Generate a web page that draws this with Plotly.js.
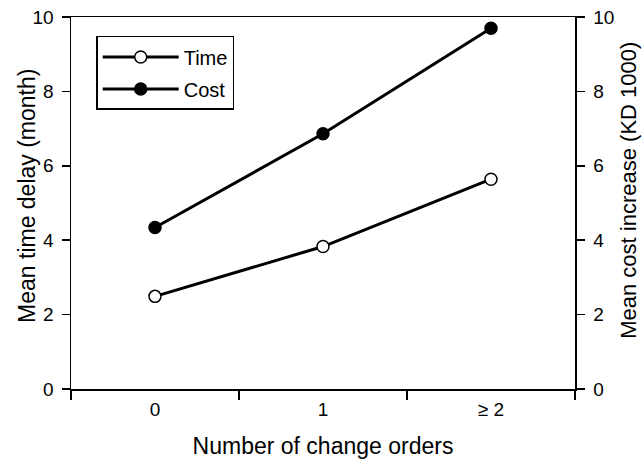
<!DOCTYPE html>
<html>
<head>
<meta charset="utf-8">
<script src="https://cdn.plot.ly/plotly-3.0.1.min.js"></script>
<style>html,body{margin:0;padding:0;background:#fff;}#chart{width:643px;height:462px;}</style>
</head>
<body>
<div id="chart"></div>
<script>
const categories = ['0', '1', '≥ 2'];
const timeDelay = [2.49, 3.83, 5.64];
const costIncrease = [4.34, 6.86, 9.70];
const seriesNames = ['Time', 'Cost'];
const yTickVals = [0, 2, 4, 6, 8, 10];
const xTitle = 'Number of change orders';
const yTitleLeft = 'Mean time delay (month)';
const yTitleRight = 'Mean cost increase (KD 1000)';

const family = 'Liberation Sans, Arial, sans-serif';
const tickFont = {family: family, size: 19, color: '#000'};
const titleFont = {family: family, size: 23, color: '#000'};
const rightTitleFont = {family: family, size: 22, color: '#000'};
const legendFont = {family: family, size: 20, color: '#000'};

const traces = [
  {
    x: categories, y: timeDelay, name: seriesNames[0], type: 'scatter', mode: 'lines+markers',
    line: {color: '#000', width: 3},
    marker: {symbol: 'circle', size: 12, color: '#fff', line: {color: '#000', width: 1.5}},
    legendgroup: 'a', yaxis: 'y'
  },
  {
    x: categories, y: costIncrease, name: seriesNames[1], type: 'scatter', mode: 'lines+markers',
    line: {color: '#000', width: 3},
    marker: {symbol: 'circle', size: 12, color: '#000', line: {color: '#000', width: 1.5}},
    legendgroup: 'b', yaxis: 'y2'
  }
];

const layout = {
  width: 643, height: 462,
  margin: {l: 71, r: 68, t: 17, b: 73},
  paper_bgcolor: '#fff', plot_bgcolor: '#fff',
  font: tickFont,
  showlegend: true,
  legend: {
    x: 0.05, y: 0.949, xanchor: 'left', yanchor: 'top',
    bordercolor: '#000', borderwidth: 1.5, bgcolor: '#fff',
    font: legendFont, traceorder: 'grouped', tracegroupgap: 3, itemwidth: 76
  },
  xaxis: {
    type: 'category', range: [-0.5, 2.5], tickson: 'boundaries',
    showline: true, linecolor: '#000', linewidth: 1.5, mirror: true,
    ticks: 'outside', ticklen: 9, tickwidth: 1.5, tickcolor: '#000',
    showgrid: false, zeroline: false, tickfont: tickFont, ticklabelstandoff: 3,
    title: {text: xTitle, font: titleFont, standoff: 18}
  },
  yaxis: {
    range: [0, 10], tickvals: yTickVals, showline: true, linecolor: '#000', linewidth: 1.5,
    ticks: 'outside', ticklen: 8, tickwidth: 1.5, tickcolor: '#000',
    showgrid: false, zeroline: false, tickfont: tickFont, ticklabelstandoff: 4
  },
  yaxis2: {
    range: [0, 10], tickvals: yTickVals, overlaying: 'y', side: 'right',
    showline: true, linecolor: '#000', linewidth: 1.5,
    ticks: 'outside', ticklen: 8, tickwidth: 1.5, tickcolor: '#000',
    showgrid: false, zeroline: false, tickfont: tickFont, ticklabelstandoff: 5
  },
  annotations: [
    {text: yTitleLeft, xref: 'paper', yref: 'paper', x: -0.0873, y: 0.519,
     xanchor: 'center', yanchor: 'middle', textangle: -90, showarrow: false, font: titleFont},
    {text: yTitleRight, xref: 'paper', yref: 'paper', x: 1.106, y: 0.534,
     xanchor: 'center', yanchor: 'middle', textangle: -90, showarrow: false, font: rightTitleFont}
  ]
};

Plotly.newPlot('chart', traces, layout, {staticPlot: true, displayModeBar: false});
</script>
</body>
</html>
